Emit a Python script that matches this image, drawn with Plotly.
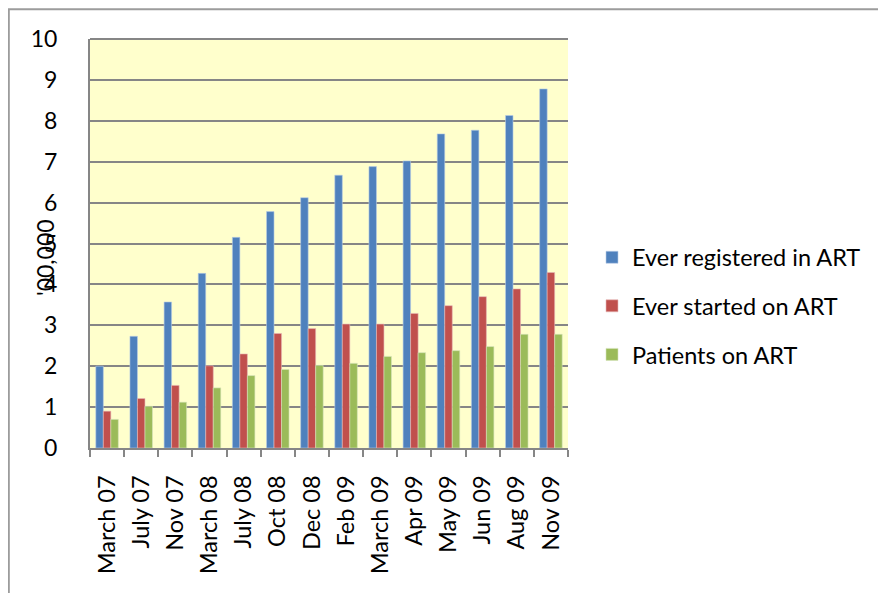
import plotly.graph_objects as go

categories = ["March 07", "July 07", "Nov 07", "March 08", "July 08", "Oct 08", "Dec 08",
              "Feb 09", "March 09", "Apr 09", "May 09", "Jun 09", "Aug 09", "Nov 09"]
ever_registered = [2.0, 2.73, 3.57, 4.27, 5.15, 5.78, 6.12, 6.67, 6.88, 7.02, 7.68, 7.77, 8.13, 8.78]
ever_started = [0.9, 1.21, 1.53, 2.01, 2.3, 2.8, 2.92, 3.03, 3.03, 3.29, 3.48, 3.7, 3.89, 4.29]
patients_on_art = [0.7, 1.02, 1.12, 1.47, 1.77, 1.92, 2.02, 2.07, 2.24, 2.33, 2.38, 2.48, 2.78, 2.78]
series_names = ["Ever registered in ART", "Ever started on ART", "Patients on ART"]
colors = ["#4F81BD", "#C0504D", "#9BBB59"]
edge_colors = ["#B9CDE5", "#E6B9B8", "#D7E4BD"]
y_ticks = list(range(0, 11))
y_title = "'00,000"

# page body has an 8px margin, so figure coordinates = screen - 8
W, H = 878, 585
L, R, T, B = 82, 560, 31, 440


def px_x(x):
    return (x - L) / (R - L)


def px_y(y):
    return (B - y) / (B - T)


fig = go.Figure()
for name, vals, c, ec in zip(series_names, [ever_registered, ever_started, patients_on_art], colors, edge_colors):
    fig.add_trace(go.Bar(x=categories, y=vals, name=name, legendgroup=name,
                         marker=dict(color=c, line=dict(color=ec, width=0.6))))

font = "Lato, 'Open Sans', sans-serif"
fig.update_layout(
    width=W, height=H,
    margin=dict(l=L, r=W - R, t=T, b=H - B, pad=0, autoexpand=False),
    paper_bgcolor="white",
    plot_bgcolor="#FFFFCC",
    barmode="group", bargap=0.34, bargroupgap=0,
    font=dict(family=font, size=23, color="black"),
    showlegend=True,
    legend=dict(x=px_x(584), xanchor="left", y=px_y(298), yanchor="middle",
                xref="paper", yref="paper", font=dict(size=23.5), tracegroupgap=15,
                itemwidth=30, bgcolor="rgba(0,0,0,0)"),
    xaxis=dict(tickangle=-90, showline=True, linecolor="#868686", linewidth=2,
               ticks="outside", ticklen=7, tickcolor="#868686", tickwidth=2,
               tickson="boundaries", showgrid=False, tickfont=dict(size=23.5),
               ticklabelstandoff=16),
    yaxis=dict(range=[0, 10], tickvals=y_ticks, showline=True, linecolor="#868686",
               linewidth=2, showgrid=True, gridcolor="#868686", gridwidth=2,
               ticks="", ticklabelstandoff=26, tickfont=dict(size=23),
               zeroline=False, mirror=False),
    annotations=[dict(text=y_title, textangle=-90, x=px_x(37), y=px_y(250),
                      xref="paper", yref="paper", xanchor="center", yanchor="middle",
                      showarrow=False, font=dict(size=23))],
    shapes=[dict(type="rect", xref="paper", yref="paper",
                 x0=px_x(0.8), x1=px_x(W + 20),
                 y0=px_y(H + 20), y1=px_y(1.3),
                 line=dict(color="#9C9C9C", width=2), layer="below"),
            dict(type="line", xref="paper", yref="paper", x0=0, x1=1, y0=1, y1=1,
                 line=dict(color="#868686", width=2))],
)
fig.write_html("out.html")
